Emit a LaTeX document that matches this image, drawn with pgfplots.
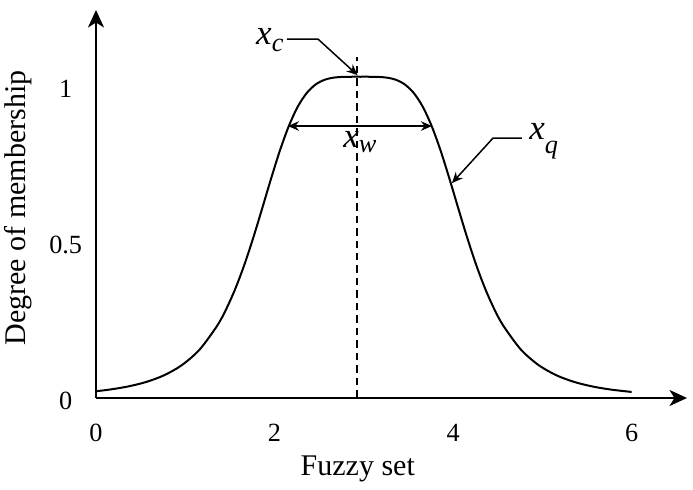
\documentclass[border=0pt]{standalone}
\usepackage{fontspec}
\setmainfont{Liberation Serif}
\usepackage{pgfplots}
\usepackage{pgfplotstable}
\pgfplotsset{compat=1.18}
\usetikzlibrary{arrows.meta}

% membership curve
\pgfplotstableread{
x y
0.00 0.0217
0.16 0.0273
0.36 0.0370
0.56 0.0512
0.76 0.0725
0.96 0.1050
1.16 0.1551
1.36 0.2329
1.46 0.2858
1.56 0.3499
1.66 0.4257
1.76 0.5123
1.86 0.6063
1.96 0.7023
2.06 0.7933
2.16 0.8720
2.26 0.9340
2.36 0.9777
2.46 1.0052
2.56 1.0202
2.66 1.0271
2.76 1.0295
2.86 1.0300
2.96 1.0300
3.06 1.0300
3.16 1.0295
3.26 1.0271
3.36 1.0202
3.46 1.0052
3.56 0.9777
3.66 0.9340
3.76 0.8720
3.86 0.7933
3.96 0.7023
4.06 0.6063
4.16 0.5123
4.26 0.4257
4.36 0.3499
4.46 0.2858
4.56 0.2329
4.76 0.1551
4.96 0.1050
5.16 0.0725
5.36 0.0512
5.56 0.0370
5.76 0.0273
6.00 0.0194
}\bellcurve

\newcommand{\lab}[2]{{\fontsize{14}{16}\selectfont\itshape x}\raisebox{#2}{\fontsize{10.5}{12}\selectfont\itshape #1}}

\begin{document}
\begin{tikzpicture}
\begin{axis}[
  name=ax,
  width=236.4pt, height=155.2pt, scale only axis,
  xmin=0, xmax=6.62, ymin=0, ymax=1.244,
  axis lines=left,
  axis line style={line width=1pt, -{Stealth[length=7pt,width=6.4pt,inset=2pt]}},
  xtick={0,2,4,6}, ytick={0,0.5,1},
  tick style={draw=none},
  /pgf/number format/assume math mode=true,
  ticklabel style={font=\fontsize{10.5}{12}\selectfont},
  xticklabel style={anchor=center, yshift=-11.8pt},
  yticklabel style={anchor=center, xshift=-10pt, yshift=-1.2pt},
  xlabel={Fuzzy set},
  ylabel={Degree of membership},
  label style={font=\fontsize{12}{14}\selectfont},
  xlabel style={at={(axis description cs:0.443,-0.183)}, anchor=center},
  ylabel style={at={(axis description cs:-0.132,0.49)}, anchor=center},
  clip=false,
]
\addplot[black, line width=0.8pt, smooth] table[x=x, y=y] {\bellcurve};
\addplot[black, line width=0.6pt, dash pattern=on 3pt off 2pt] coordinates {(2.923,0) (2.923,1.093)};

% width arrow
\draw[line width=0.6pt, {Stealth[length=4.4pt,width=3.8pt]}-{Stealth[length=4.4pt,width=3.8pt]}]
  (axis cs:2.150,0.872) -- (axis cs:3.763,0.872);
\node at (axis cs:2.956,0.8205) {\lab{w}{-2pt}};

% centre pointer
\draw[line width=0.6pt, -{Stealth[length=4.4pt,width=3.8pt]}]
  (axis cs:2.139,1.151) -- (axis cs:2.486,1.151) -- (axis cs:2.930,1.035);
\node[anchor=east, inner sep=0pt] at (axis cs:2.105,1.147) {\lab{c}{-3pt}};

% slope pointer
\draw[line width=0.6pt, -{Stealth[length=4.4pt,width=3.8pt]}]
  (axis cs:4.771,0.833) -- (axis cs:4.446,0.833) -- (axis cs:3.987,0.689);
\node[anchor=west, inner sep=0pt] at (axis cs:4.849,0.824) {\lab{q}{-5.6pt}};
\end{axis}
\pgfresetboundingbox
\path[use as bounding box] ([xshift=-38.4pt,yshift=-36.8pt]ax.south west) rectangle ([xshift=2.4pt,yshift=4pt]ax.north east);
\end{tikzpicture}
\end{document}
